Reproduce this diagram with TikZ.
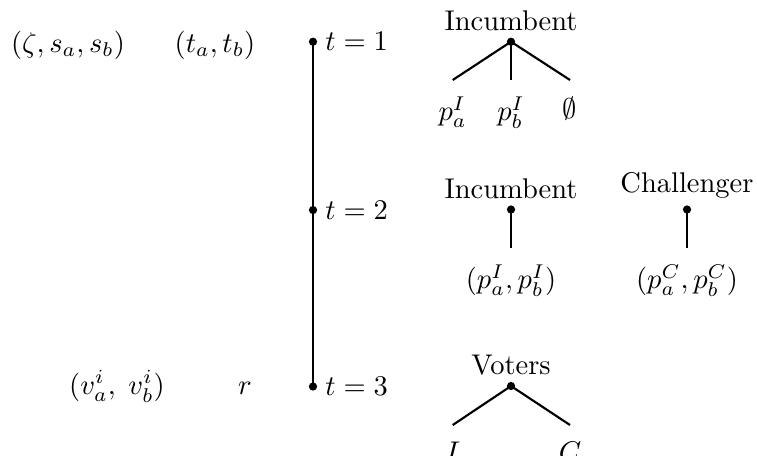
\documentclass[tikz,border=0pt]{standalone}
\begin{document}
\begin{tikzpicture}[x=0.351pt,y=-0.351pt,line width=0.75pt,
  dot/.style={circle,fill,inner sep=0pt,minimum size=2.9pt},
  head/.style={anchor=south,inner sep=3.4pt},
  leaf/.style={anchor=north,inner sep=0pt,yshift=-5.5pt},
  tlab/.style={anchor=west,inner sep=0pt,xshift=4pt},
  side/.style={anchor=base,inner sep=0pt}]
\useasboundingbox (0,0) rectangle (757,455);
% time axis
\node[dot] (d1) at (313,41.7) {};
\node[dot] (d2) at (313,210) {};
\node[dot] (d3) at (313,386.5) {};
\draw (d1.center) -- (d2.center) -- (d3.center);
\node[tlab] (t1) at (d1) {$t=1$};
\node[tlab] (t2) at (d2) {$t=2$};
\node[tlab] (t3) at (d3) {$t=3$};
% side labels
\node[side] (zeta) at (68,52) {$(\zeta,s_a,s_b)$};
\node[side] (tab) at (215,52) {$(t_a,t_b)$};
\node[side] (vab) at (117,394) {$(v^i_a,\;v^i_b)$};
\node[side] (r) at (245,394) {$r$};
% tree 1
\node[dot] (a1) at (511,41.7) {};
\node[head] (h1) at (a1) {Incumbent};
\coordinate (e11) at (452.7,80);
\coordinate (e12) at (511,80);
\coordinate (e13) at (570,80);
\draw (a1.center) -- (e11);
\draw (a1.center) -- (e12);
\draw (a1.center) -- (e13);
\node[leaf] (l11) at (e11) {$p^I_a$};
\node[leaf] (l12) at (e12) {$p^I_b$};
\node[leaf] (l13) at (e13) {$\emptyset$};
% tree 2
\node[dot] (a2) at (511,209.5) {};
\node[head] (h2) at (a2) {Incumbent};
\coordinate (e21) at (511,248);
\draw (a2.center) -- (e21);
\node[leaf] (l21) at (e21) {$(p^I_a,p^I_b)$};
\node[dot] (a3) at (687,209.5) {};
\node[head] (h3) at (a3) {Challenger};
\coordinate (e31) at (687,248);
\draw (a3.center) -- (e31);
\node[leaf] (l31) at (e31) {$(p^C_a,p^C_b)$};
% tree 3
\node[dot] (a4) at (511,386) {};
\node[head] (h4) at (a4) {Voters};
\coordinate (e41) at (452.7,425);
\coordinate (e42) at (570,425);
\draw (a4.center) -- (e41);
\draw (a4.center) -- (e42);
\node[leaf] (l41) at (e41) {$I$};
\node[leaf] (l42) at (e42) {$C$};
\end{tikzpicture}
\end{document}
